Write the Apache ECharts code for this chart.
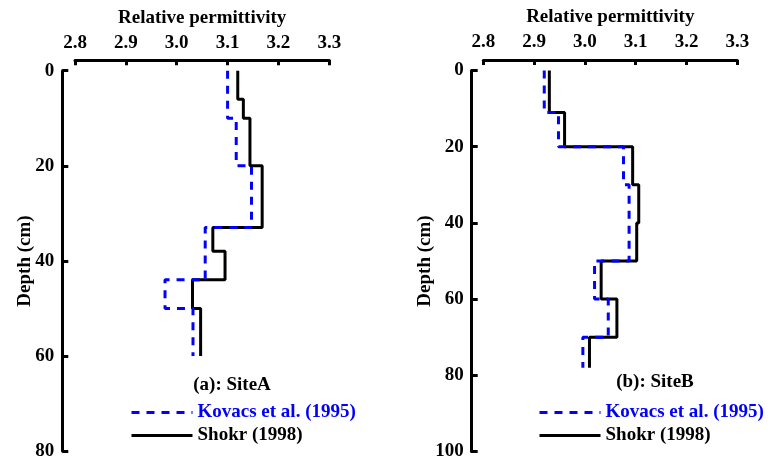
<!DOCTYPE html>
<html>
<head>
<meta charset="utf-8">
<script src="https://cdn.jsdelivr.net/npm/echarts@6/dist/echarts.min.js"></script>
<style>html,body{margin:0;padding:0;background:#fff}#c{width:768px;height:461px}</style>
</head>
<body>
<div id="c"></div>
<script>
// ---- Data ----
var xTicks = [2.8, 2.9, 3.0, 3.1, 3.2, 3.3];
var seriesNames = ['Kovacs et al. (1995)', 'Shokr (1998)'];
var panelTitles = ['(a): SiteA', '(b): SiteB'];

// Site A – layer boundaries (cm) and relative permittivity per layer
var kovacsA_depths = [0, 10, 20, 33, 44, 50, 60];
var kovacsA_values = [3.100, 3.117, 3.147, 3.056, 2.977, 3.032];
var shokrA_depths = [0, 6, 10, 20, 33, 38, 44, 50, 60];
var shokrA_values = [3.120, 3.131, 3.144, 3.168, 3.071, 3.095, 3.031, 3.047];

// Site B
var kovacsB_depths = [0, 11, 20, 30, 50, 60, 70, 78];
var kovacsB_values = [2.920, 2.948, 3.076, 3.087, 3.019, 3.046, 2.996];
var shokrB_depths = [0, 11, 20, 30, 40, 50, 60, 70, 78];
var shokrB_values = [2.930, 2.960, 3.094, 3.106, 3.102, 3.032, 3.063, 3.009];

function stepProfile(depths, values) {
  var pts = [];
  for (var i = 0; i < values.length; i++) {
    pts.push([values[i], depths[i]]);
    pts.push([values[i], depths[i + 1]]);
  }
  return pts;
}

var FONT = 'Liberation Serif';
var txt = {fontFamily: FONT, fontWeight: 'bold', fontSize: 19, color: '#000'};
var BLUE = '#0000ff';

function xAxis(gi) {
  return {
    type: 'value', gridIndex: gi, position: 'top', offset: 10.5,
    min: 2.8, max: 3.3, interval: 0.1,
    name: 'Relative permittivity', nameLocation: 'middle', nameGap: 33,
    nameTextStyle: txt,
    axisLine: {show: true, onZero: false, lineStyle: {color: '#000', width: 3}},
    axisTick: {show: true, inside: true, length: 5, lineStyle: {color: '#000', width: 3}},
    axisLabel: Object.assign({margin: 8, formatter: function (v) { return v.toFixed(1); }}, txt),
    splitLine: {show: false}
  };
}
function yAxis(gi, max, off) {
  return {
    type: 'value', gridIndex: gi, position: 'left', offset: off, inverse: true,
    min: 0, max: max, interval: 20,
    axisLine: {show: true, onZero: false, lineStyle: {color: '#000', width: 3}},
    axisTick: {show: true, inside: true, length: 6, lineStyle: {color: '#000', width: 3}},
    axisLabel: Object.assign({margin: 8}, txt),
    splitLine: {show: false}
  };
}
function lineSeries(name, gi, data) {
  var isK = name === seriesNames[0];
  return {
    name: name, type: 'line', xAxisIndex: gi, yAxisIndex: gi,
    data: data, symbol: 'none', showSymbol: false, animation: false,
    lineStyle: isK ? {color: BLUE, width: 3, type: [8, 7]} : {color: '#000', width: 3},
    itemStyle: {color: isK ? BLUE : '#000'},
    z: isK ? 3 : 2
  };
}
function legend(left) {
  return {
    left: left, top: 398, orient: 'vertical', itemWidth: 61, itemHeight: 14, itemGap: 4,
    textStyle: txt,
    itemStyle: {opacity: 0},
    lineStyle: {width: 3},
    data: [
      {name: seriesNames[0], textStyle: {color: BLUE}},
      {name: seriesNames[1], textStyle: {color: '#000'}}
    ]
  };
}

var chart = echarts.init(document.getElementById('c'), null, {renderer: 'canvas'});
chart.setOption({
  animation: false,
  backgroundColor: '#fff',
  grid: [
    {left: 75, top: 70.7, width: 254.3, height: 380.3},
    {left: 483.3, top: 70.5, width: 254, height: 381.5}
  ],
  xAxis: [xAxis(0), xAxis(1)],
  yAxis: [yAxis(0, 80, 12.7), yAxis(1, 100, 11.6)],
  title: [
    {text: panelTitles[0], left: 227, top: 371, textAlign: 'center', textStyle: txt},
    {text: panelTitles[1], left: 650, top: 368, textAlign: 'center', textStyle: txt}
  ],
  legend: [legend(125), legend(533)],
  graphic: [
    {type: 'text', x: 25, y: 261, rotation: Math.PI / 2,
      style: {text: 'Depth (cm)', font: 'bold 19px "Liberation Serif"', fill: '#000', align: 'center', verticalAlign: 'middle'}},
    {type: 'text', x: 425, y: 261, rotation: Math.PI / 2,
      style: {text: 'Depth (cm)', font: 'bold 19px "Liberation Serif"', fill: '#000', align: 'center', verticalAlign: 'middle'}}
  ],
  series: [
    lineSeries(seriesNames[0], 0, stepProfile(kovacsA_depths, kovacsA_values)),
    lineSeries(seriesNames[1], 0, stepProfile(shokrA_depths, shokrA_values)),
    lineSeries(seriesNames[0], 1, stepProfile(kovacsB_depths, kovacsB_values)),
    lineSeries(seriesNames[1], 1, stepProfile(shokrB_depths, shokrB_values))
  ]
});
</script>
</body>
</html>
